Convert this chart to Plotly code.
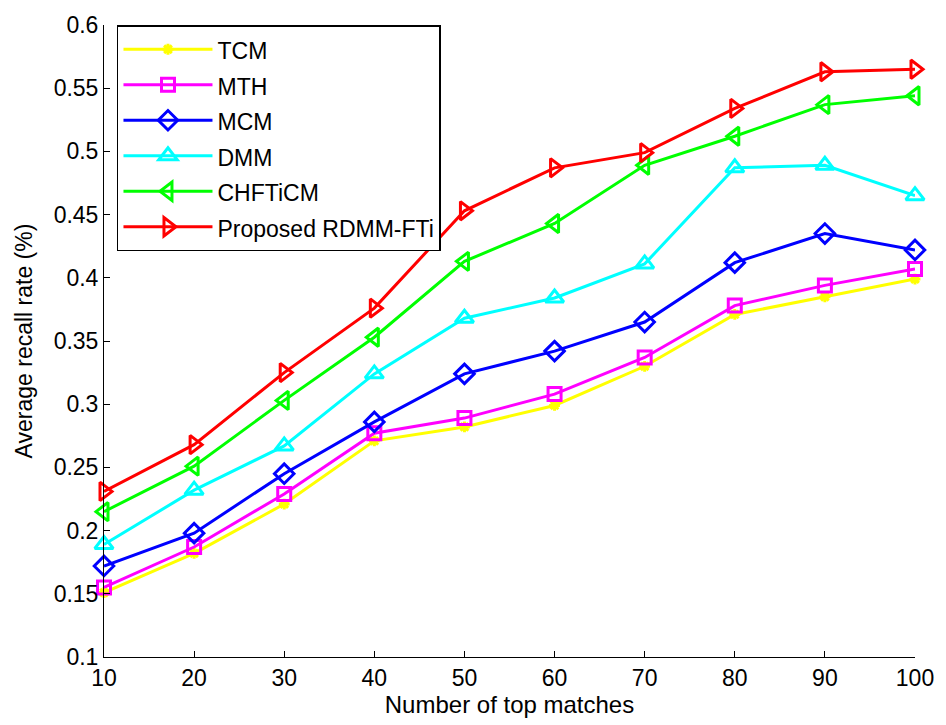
import plotly.graph_objects as go

x_vals = [10, 20, 30, 40, 50, 60, 70, 80, 90, 100]
tcm = [0.151, 0.182, 0.221, 0.271, 0.282, 0.299, 0.330, 0.371, 0.385, 0.399]
mth = [0.155, 0.187, 0.229, 0.277, 0.289, 0.308, 0.337, 0.378, 0.394, 0.407]
mcm = [0.172, 0.198, 0.245, 0.286, 0.324, 0.342, 0.365, 0.412, 0.435, 0.422]
dmm = [0.189, 0.232, 0.267, 0.324, 0.368, 0.384, 0.411, 0.487, 0.489, 0.465]
chf = [0.215, 0.251, 0.303, 0.353, 0.413, 0.443, 0.489, 0.512, 0.537, 0.544]
rdmm = [0.231, 0.268, 0.325, 0.376, 0.453, 0.487, 0.499, 0.534, 0.563, 0.565]
y_ticks = [0.1, 0.15, 0.2, 0.25, 0.3, 0.35, 0.4, 0.45, 0.5, 0.55, 0.6]
y_tick_text = ["0.1", "0.15", "0.2", "0.25", "0.3", "0.35", "0.4", "0.45", "0.5", "0.55", "0.6"]

series = [
    ("TCM", tcm, "#FFFF00", "asterisk-open", 9),
    ("MTH", mth, "#FF00FF", "square-open", 13),
    ("MCM", mcm, "#0000FF", "diamond-open", 15),
    ("DMM", dmm, "#00FFFF", "triangle-up-open", 16),
    ("CHFTiCM", chf, "#00FF00", "triangle-left-open", 16),
    ("Proposed RDMM-FTi", rdmm, "#FF0000", "triangle-right-open", 16),
]

fig = go.Figure()
for name, vals, color, sym, size in series:
    fig.add_trace(go.Scatter(
        x=x_vals, y=vals, name='<span style="font-size:23px">' + name + '</span>',
        mode="lines+markers",
        line=dict(color=color, width=3),
        marker=dict(symbol=sym, size=size, color=color, line=dict(color=color, width=3)),
        cliponaxis=False,
    ))

font = "Liberation Sans, Arial, sans-serif"
fig.update_layout(
    width=946, height=725,
    margin=dict(l=104, r=26, t=15, b=68),
    paper_bgcolor="white", plot_bgcolor="white",
    font=dict(family=font, size=23, color="black"),
    showlegend=True,
    legend=dict(
        x=0.016, y=1.0, xanchor="left", yanchor="top",
        bordercolor="black", borderwidth=1.5, bgcolor="white",
        font=dict(family=font, size=25), itemwidth=89,
    ),
    xaxis=dict(
        range=[10, 100], tickmode="array", tickvals=x_vals,
        ticks="inside", ticklen=6, tickcolor="black",
        showline=True, linecolor="black", linewidth=1,
        showgrid=False, zeroline=False,
        title=dict(text="Number of top matches", font=dict(size=24), standoff=2),
        tickfont=dict(size=23),
    ),
    yaxis=dict(
        range=[0.1, 0.6], tickmode="array",
        tickvals=y_ticks, ticktext=y_tick_text,
        ticks="inside", ticklen=6, tickcolor="black",
        showline=True, linecolor="black", linewidth=1,
        showgrid=False, zeroline=False,
        title=dict(text="Average recall rate (%)", font=dict(size=23), standoff=14),
        tickfont=dict(size=23),
    ),
)
fig.write_html("out.html")
